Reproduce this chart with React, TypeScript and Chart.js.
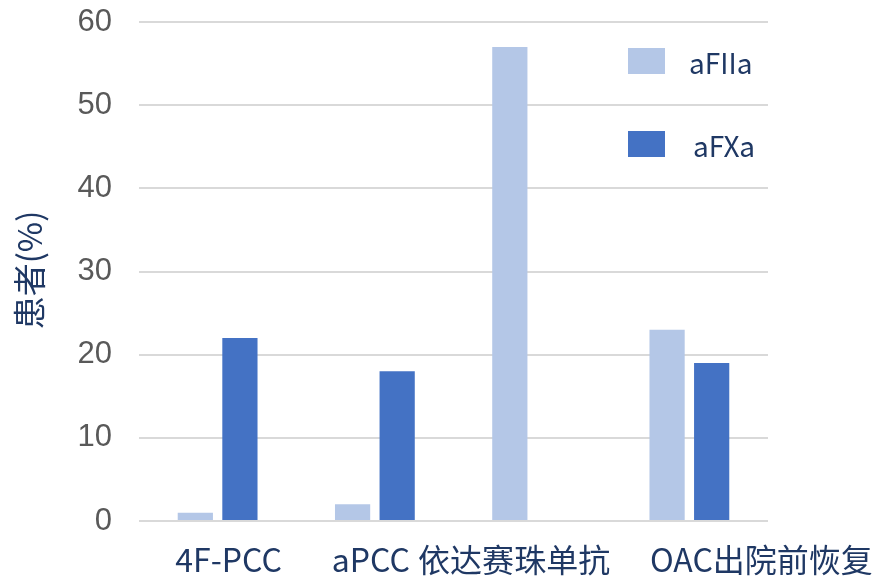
import React, { useEffect, useRef } from "react";
import { Chart, registerables } from "chart.js";

Chart.register(...registerables);

const categories = ["4F-PCC", "aPCC", "依达赛珠单抗", "OAC出院前恢复"];
const labelOffsets = [11, -4, -18, 72];
const seriesNames = ["aFIIa", "aFXa"];
const aFIIa = [1, 2, 57, 23];
const aFXa = [22, 18, 0, 19];
const colors = ["#B4C7E7", "#4472C4"];
const yTitle = "患者(%)";

const TEXT = "#1F3864";
const CJK = "'Noto Sans CJK SC', 'Noto Sans', sans-serif";

const overlayPlugin = {
  id: "overlay",
  afterDraw(chart: any) {
    const ctx = chart.ctx;
    const xs = chart.scales.x;
    const area = chart.chartArea;
    ctx.save();
    // x labels
    ctx.fillStyle = TEXT;
    ctx.font = `32px ${CJK}`;
    ctx.textAlign = "center";
    ctx.textBaseline = "middle";
    categories.forEach((c, i) => {
      ctx.fillText(c, xs.getPixelForValue(i) + labelOffsets[i], 560);
    });
    // y title
    ctx.save();
    ctx.translate(29, 270);
    ctx.rotate(-Math.PI / 2);
    ctx.font = `33px ${CJK}`;
    ctx.fillText(yTitle, 0, 0);
    ctx.restore();
    // legend
    ctx.textAlign = "left";
    ctx.font = `28px ${CJK}`;
    const legY = [61, 144];
    const txtX = [689, 693];
    seriesNames.forEach((n, i) => {
      ctx.fillStyle = colors[i];
      ctx.fillRect(area.right - 140, legY[i] - 13, 37, 26);
      ctx.fillStyle = TEXT;
      ctx.fillText(n, txtX[i], legY[i] + 2);
    });
    ctx.restore();
  },
};

export default function App() {
  const ref = useRef<HTMLCanvasElement>(null);
  useEffect(() => {
    document.body.style.margin = "0";
    const chart = new Chart(ref.current!, {
      type: "bar",
      data: {
        labels: categories,
        datasets: [
          { label: seriesNames[0], data: aFIIa, backgroundColor: colors[0], barPercentage: 0.79, categoryPercentage: 0.567 },
          { label: seriesNames[1], data: aFXa, backgroundColor: colors[1], barPercentage: 0.79, categoryPercentage: 0.567 },
        ],
      },
      plugins: [overlayPlugin],
      options: {
        responsive: false,
        animation: false,
        layout: { padding: { top: 22, right: 108, left: 0, bottom: 0 } },
        plugins: { legend: { display: false }, tooltip: { enabled: false } },
        scales: {
          x: {
            grid: { display: false },
            border: { display: false },
            ticks: { display: false },
            afterFit: (s: any) => { s.height = 57; s.paddingLeft = 0; s.paddingRight = 0; },
          },
          y: {
            min: 0,
            max: 60,
            ticks: {
              stepSize: 10,
              color: "#595959",
              padding: 27,
              font: { family: "'Liberation Sans', Arial, sans-serif", size: 31 },
            },
            grid: { color: "#D9D9D9", lineWidth: 2, drawTicks: false },
            border: { display: false },
            afterFit: (s: any) => { s.width = 139; s.paddingTop = 0; s.paddingBottom = 0; },
          },
        },
      },
    });
    return () => chart.destroy();
  }, []);
  return (
    <div style={{ width: 876, height: 578 }}>
      <canvas ref={ref} width={876} height={578} style={{ display: "block" }} />
    </div>
  );
}
